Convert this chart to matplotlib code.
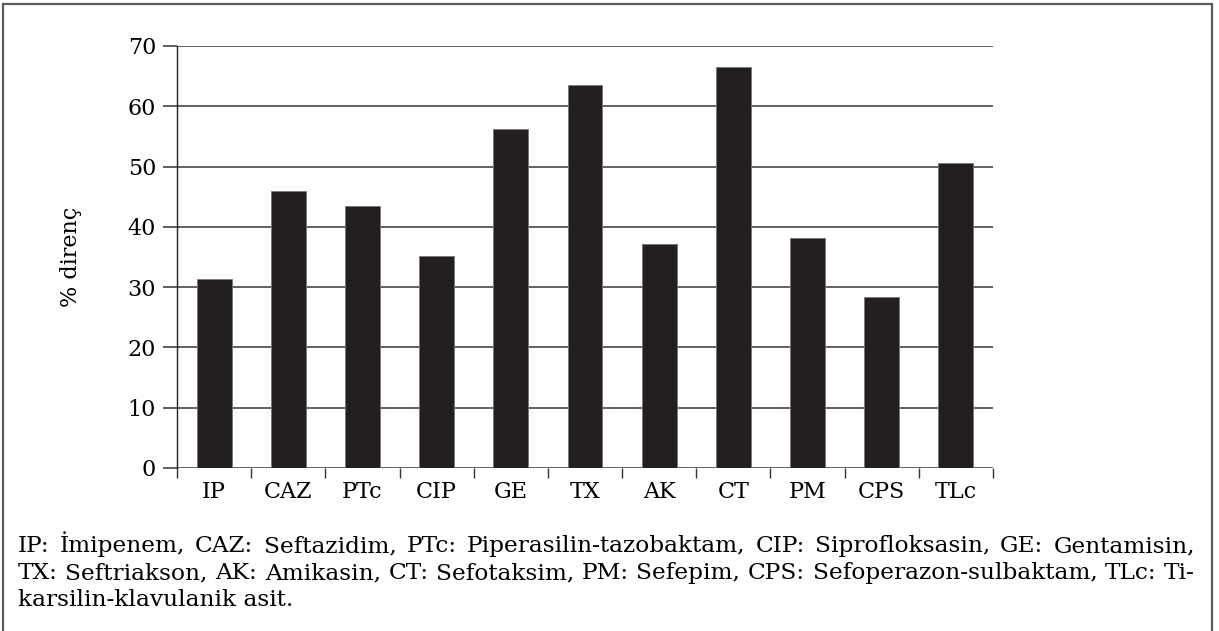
import matplotlib
matplotlib.use("Agg")
import matplotlib.pyplot as plt
from matplotlib.patches import Rectangle

plt.rcParams["font.family"] = ["DejaVu Serif"]

W, H = 1219, 631

antibiotics = ["IP", "CAZ", "PTc", "CIP", "GE", "TX", "AK", "CT", "PM", "CPS", "TLc"]
resistance = [31.3, 46.0, 43.4, 35.2, 56.2, 63.6, 37.2, 66.5, 38.1, 28.4, 50.6]
y_ticks = [0, 10, 20, 30, 40, 50, 60, 70]

caption_lines = [
    "IP: İmipenem, CAZ: Seftazidim, PTc: Piperasilin-tazobaktam, CIP: Siprofloksasin, GE: Gentamisin,",
    "TX: Seftriakson, AK: Amikasin, CT: Sefotaksim, PM: Sefepim, CPS: Sefoperazon-sulbaktam, TLc: Ti-",
    "karsilin-klavulanik asit.",
]

fig = plt.figure(figsize=(W / 100, H / 100), dpi=100)

# outer frame (open at the bottom)
fig.add_artist(Rectangle((3 / W, -0.1), (1212 - 3) / W, 1.1 - 4 / H,
                         transform=fig.transFigure, fill=False,
                         edgecolor="#5a5a5a", lw=1.6))

# axes box in pixels: left 177, right 993, top 46, bottom 468
ax = fig.add_axes([177 / W, 1 - 468 / H, (993 - 177) / W, (468 - 46) / H])

x = range(len(antibiotics))
ax.bar(x, resistance, width=0.47, color="#231f20", edgecolor="#777777",
       lw=0.6, zorder=3)

ax.set_xlim(-0.5, len(antibiotics) - 0.5)
ax.set_ylim(0, 70)
ax.set_yticks(y_ticks)
ax.yaxis.grid(True, color="#555555", lw=1.3, zorder=1)
ax.tick_params(axis="y", length=10, width=1.1, color="#333333",
               labelsize=16, pad=5)

ax.set_xticks(list(x))
ax.set_xticklabels(antibiotics)
ax.tick_params(axis="x", which="major", length=0, labelsize=16, pad=9)
ax.set_xticks([i - 0.5 for i in range(len(antibiotics) + 1)], minor=True)
ax.tick_params(axis="x", which="minor", length=7, width=1.0, color="#333333")

for s in ("top", "right", "bottom"):
    ax.spines[s].set_visible(False)
ax.spines["left"].set_color("#222222")
ax.spines["left"].set_linewidth(1.0)

ax.set_ylabel("% direnç", fontsize=16, labelpad=33)

# caption, justified like the printed legend
fig.canvas.draw()
renderer = fig.canvas.get_renderer()
x0, x1 = 18, 1195
ys = [552, 579, 606]

# size the font so the first line fills the width with plain spaces
probe = fig.text(0, 0, caption_lines[0], fontsize=10)
fs = 10 * (x1 - x0) / probe.get_window_extent(renderer).width * 0.985
probe.remove()

for k, line in enumerate(caption_lines):
    yf = 1 - ys[k] / H
    if k == len(caption_lines) - 1:
        fig.text(x0 / W, yf, line, fontsize=fs, va="baseline", ha="left")
        continue
    words = line.split(" ")
    arts = [fig.text(0, yf, w_, fontsize=fs, va="baseline", ha="left") for w_ in words]
    widths = [a.get_window_extent(renderer).width for a in arts]
    gap = (x1 - x0 - sum(widths)) / (len(words) - 1)
    pos = x0
    for a, wd in zip(arts, widths):
        a.set_x(pos / W)
        pos += wd + gap

fig.savefig("out.png", dpi=100)
